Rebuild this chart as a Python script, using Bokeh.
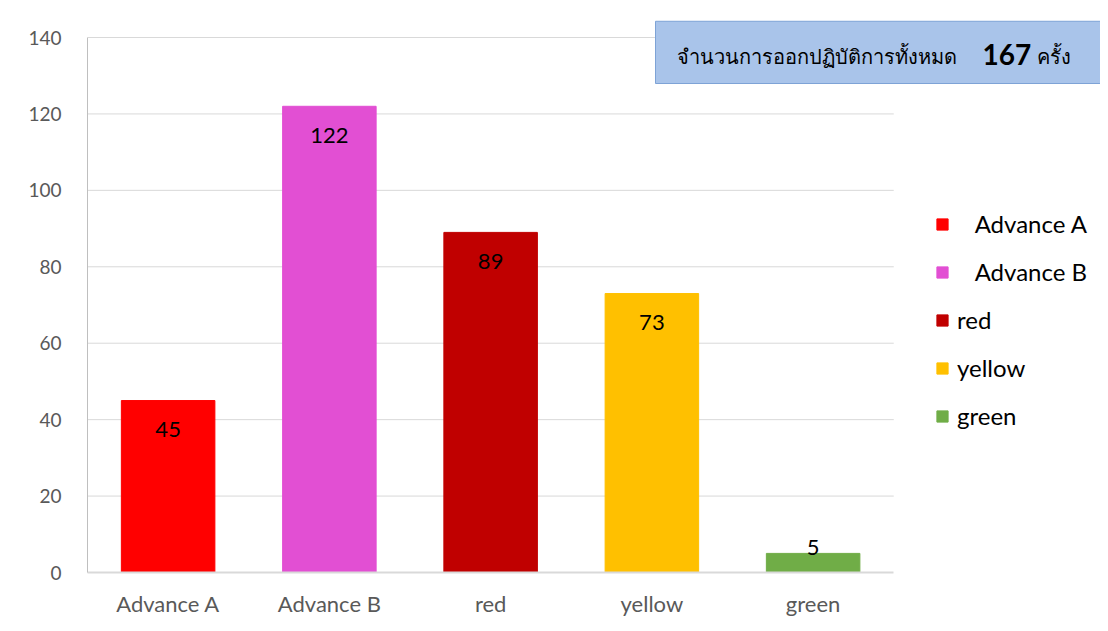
import numpy as np
from bokeh.plotting import figure
from bokeh.models import ColumnDataSource, Legend, LegendItem, Label, FixedTicker, Range1d
from bokeh.core.properties import value
from bokeh.embed import file_html
from bokeh.resources import INLINE

categories = ["Advance A", "Advance B", "red", "yellow", "green"]
counts = [45, 122, 89, 73, 5]
colors = ["#ff0000", "#e24fd3", "#c00000", "#ffc000", "#70ad47"]
legend_labels = ["\u00a0\u00a0\u00a0Advance A", "\u00a0\u00a0\u00a0Advance B", "red", "yellow", "green"]
y_ticks = [0, 20, 40, 60, 80, 100, 120, 140]
title_text = "จำนวนการออกปฏิบัติการทั้งหมด"
total_text = "167"
unit_text = "ครั้ง"

FONT = "Lato"

xs = list(range(len(categories)))
src = ColumnDataSource(dict(
    x=xs, cat=categories, val=counts, color=colors,
    txt=[str(v) for v in counts],
    yoff=[-6 if v < 10 else 29 for v in counts],
))

W, H = 1100, 623
left, bottom = 87, 51
px_per_x = 161.25
px_per_y = 535 / 140
x_start = -0.5
x_end = x_start + (W - left) / px_per_x
y_end = (H - bottom) / px_per_y

p = figure(x_range=Range1d(x_start, x_end), y_range=Range1d(0, y_end), width=W, height=H,
           output_backend="svg", toolbar_location=None,
           min_border_left=left, min_border_right=0, min_border_top=0, min_border_bottom=bottom)

# title box (drawn first so it sits behind)
BOX_FILL = "#a9c4ea"
box = Label(x=568, y=489, x_units="screen", y_units="screen", text="\u00a0",
            text_font_size="2px", text_color=BOX_FILL, anchor="bottom_left",
            background_fill_color=BOX_FILL, border_line_color="#7ea3d6",
            border_line_width=1,
            padding=dict(left=240, right=240, top=30, bottom=30))
p.add_layout(box)

# grid lines (only across the category area)
grid_src = ColumnDataSource(dict(y=y_ticks[1:], x0=[x_start] * (len(y_ticks) - 1),
                                 x1=[len(categories) - 0.5] * (len(y_ticks) - 1)))
p.segment(x0="x0", y0="y", x1="x1", y1="y", source=grid_src, line_color="#d9d9d9", line_width=1)

r = p.vbar(x="x", top="val", width=0.58, color="color", source=src)

p.text(x="x", y="val", text="txt", y_offset="yoff", source=src,
       text_align="center", text_baseline="middle", text_font=value(FONT),
       text_font_size="22px", text_color="#000000")

p.outline_line_color = None
p.xgrid.grid_line_color = None
p.ygrid.grid_line_color = None

p.yaxis.ticker = FixedTicker(ticks=y_ticks)
p.yaxis.bounds = (0, 140)
p.yaxis.axis_line_color = "#bfbfbf"
p.yaxis.major_tick_line_color = None
p.yaxis.minor_tick_line_color = None
p.yaxis.major_label_text_font = FONT
p.yaxis.major_label_text_font_size = "19px"
p.yaxis.major_label_text_color = "#595959"
p.yaxis.major_label_standoff = 20

p.xaxis.ticker = FixedTicker(ticks=xs)
p.xaxis.major_label_overrides = {i: c for i, c in zip(xs, categories)}
p.xaxis.bounds = (x_start, len(categories) - 0.5)
p.xaxis.axis_line_color = "#d9d9d9"
p.xaxis.axis_line_width = 2
p.xaxis.major_tick_line_color = None
p.xaxis.minor_tick_line_color = None
p.xaxis.major_label_text_font = FONT
p.xaxis.major_label_text_font_size = "22px"
p.xaxis.major_label_text_color = "#595959"
p.xaxis.major_label_standoff = 11

# legend
items = [LegendItem(label=lab, renderers=[r], index=i) for i, lab in enumerate(legend_labels)]
legend = Legend(items=items, location=(848, 142), orientation="vertical",
                label_text_font=FONT, label_text_font_size="24px", label_text_color="#000000",
                glyph_width=14, glyph_height=14, label_height=28, spacing=19,
                label_standoff=8, padding=0, margin=0,
                border_line_color=None, background_fill_alpha=0)
p.add_layout(legend, "center")

p.add_layout(Label(x=589, y=517, x_units="screen", y_units="screen", text=title_text,
                   text_font=FONT, text_font_size="20px", text_color="#000000",
                   text_baseline="middle", text_align="left"))
p.add_layout(Label(x=895, y=518, x_units="screen", y_units="screen", text=total_text,
                   text_font=FONT, text_font_size="28px", text_font_style="bold",
                   text_color="#000000", text_baseline="middle", text_align="left"))
p.add_layout(Label(x=949, y=517, x_units="screen", y_units="screen", text=unit_text,
                   text_font=FONT, text_font_size="20px", text_color="#000000",
                   text_baseline="middle", text_align="left"))

open("out.html", "w").write(file_html(p, INLINE))
